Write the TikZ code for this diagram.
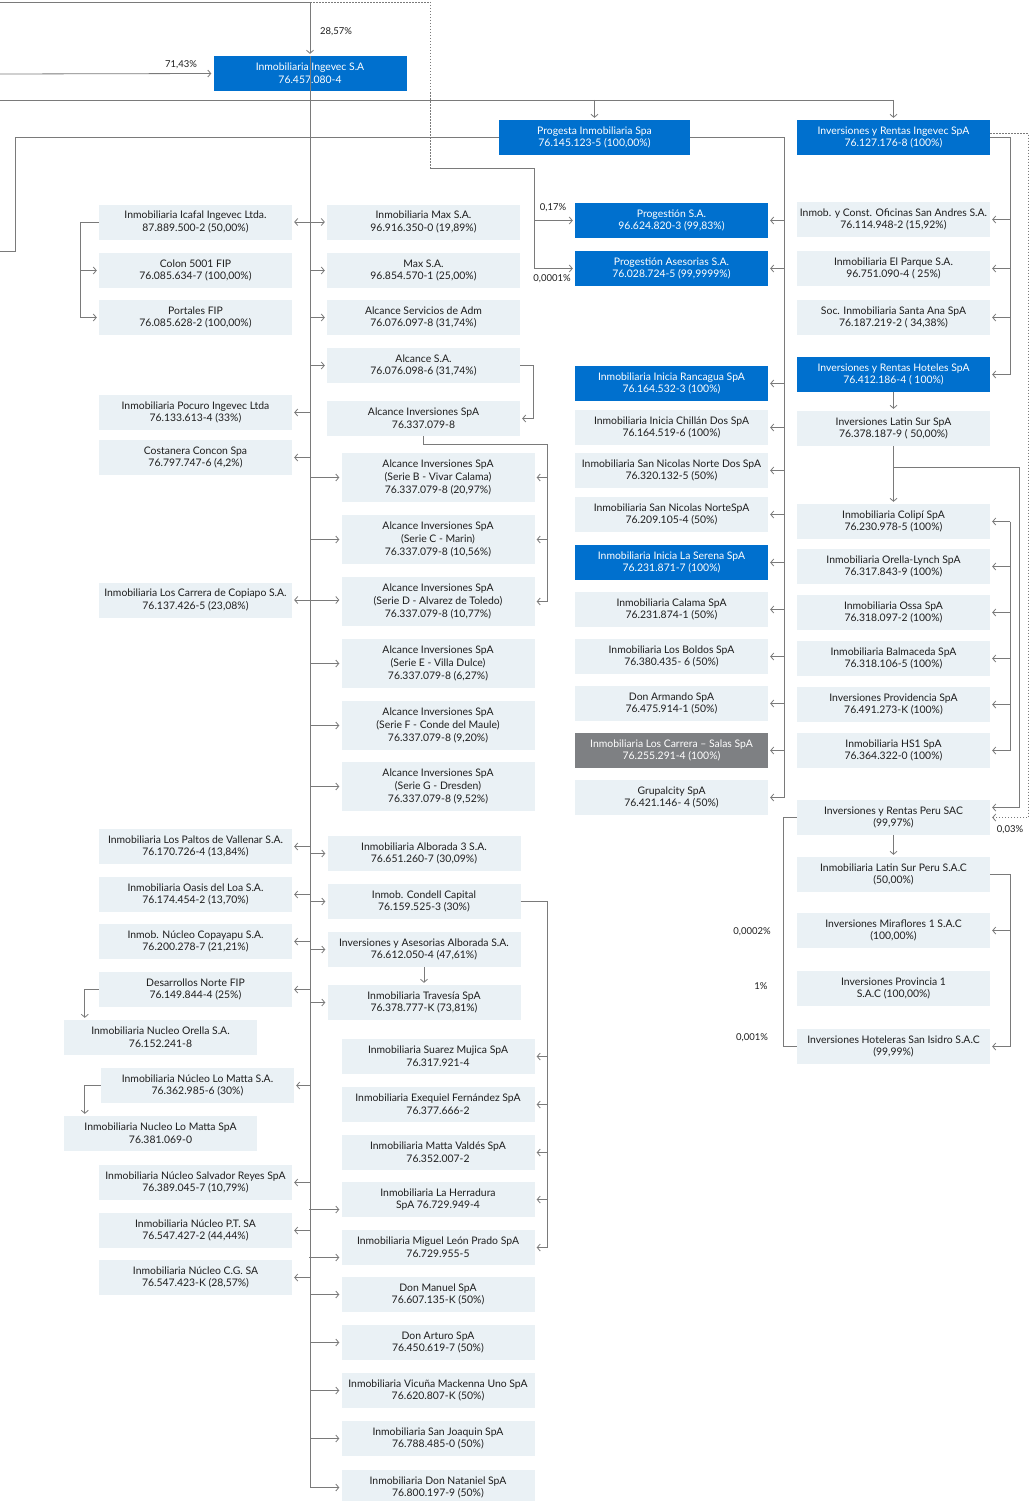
\documentclass[tikz,border=0pt]{standalone}
\usepackage{fontspec}
\setmainfont{Lato}
\usetikzlibrary{arrows.meta, calc}
\definecolor{corp}{HTML}{0070CE}
\definecolor{pale}{HTML}{EAF1F5}
\definecolor{ash}{HTML}{7E8083}
\definecolor{wire}{HTML}{7A7A7A}
\definecolor{txt}{HTML}{1E1E1E}

\tikzset{
  box/.style={rectangle, minimum width=193pt, minimum height=35pt, inner sep=0pt,
    align=center, text=txt, font=\fontsize{10.4}{12.8}\selectfont},
  pbox/.style={box, fill=pale},
  bbox/.style={box, fill=corp, text=white},
  gbox/.style={box, fill=ash, text=white},
  tall/.style={minimum height=49pt},
  link/.style={draw=wire, line width=0.8pt},
  arr/.style={link, -{Straight Barb[length=3pt,width=7pt]}, shorten >=2pt},
  darr/.style={link, {Straight Barb[length=3pt,width=7pt]}-{Straight Barb[length=3pt,width=7pt]},
    shorten >=2pt, shorten <=2pt},
  dots/.style={draw=wire, line width=0.8pt, dash pattern=on 1.5pt off 1.5pt},
  pct/.style={text=txt, inner sep=0pt, font=\fontsize{9.5}{11}\selectfont}
}

\begin{document}
\begin{tikzpicture}[x=1pt, y=-1pt]
    \useasboundingbox (0,0) rectangle (1029,1501);

    % Top companies
    \node[bbox] (ingevec) at (310,73.5) {Inmobiliaria Ingevec S.A\\76.457.080-4};
    \node[bbox, minimum width=191pt] (progesta) at (594.5,137.5) {Progesta Inmobiliaria Spa\\76.145.123-5 (100,00\%)};
    \node[bbox] (invrentas) at (893.5,137.5) {Inversiones y Rentas Ingevec SpA\\76.127.176-8 (100\%)};

    % Left column
    \node[pbox] (icafal) at (195.5,222) {Inmobiliaria Icafal Ingevec Ltda.\\87.889.500-2 (50,00\%)};
    \node[pbox] (colon) at (195.5,270.5) {Colon 5001 FIP\\76.085.634-7 (100,00\%)};
    \node[pbox] (portales) at (195.5,317.5) {Portales FIP\\76.085.628-2 (100,00\%)};
    \node[pbox] (pocuro) at (195.5,412.5) {Inmobiliaria Pocuro Ingevec Ltda\\76.133.613-4 (33\%)};
    \node[pbox] (costanera) at (195.5,457.5) {Costanera Concon Spa\\76.797.747-6 (4,2\%)};
    \node[pbox] (copiapo) at (195.5,600) {Inmobiliaria Los Carrera de Copiapo S.A.\\76.137.426-5 (23,08\%)};
    \node[pbox] (paltos) at (195.5,846.5) {Inmobiliaria Los Paltos de Vallenar S.A.\\76.170.726-4 (13,84\%)};
    \node[pbox] (oasis) at (195.5,894.5) {Inmobiliaria Oasis del Loa S.A.\\76.174.454-2 (13,70\%)};
    \node[pbox] (copayapu) at (195.5,941.5) {Inmob. Núcleo Copayapu S.A.\\76.200.278-7 (21,21\%)};
    \node[pbox] (desarrollos) at (195.5,989.5) {Desarrollos Norte FIP\\76.149.844-4 (25\%)};
    \node[pbox] (nucorella) at (160.5,1037.5) {Inmobiliaria Nucleo Orella S.A.\\76.152.241-8};
    \node[pbox] (lomatta) at (197.5,1085.5) {Inmobiliaria Núcleo Lo Matta S.A.\\76.362.985-6 (30\%)};
    \node[pbox] (lomattaspa) at (160.5,1133.5) {Inmobiliaria Nucleo Lo Matta SpA\\76.381.069-0};
    \node[pbox] (salvador) at (195.5,1182.5) {Inmobiliaria Núcleo Salvador Reyes SpA\\76.389.045-7 (10,79\%)};
    \node[pbox] (nucleopt) at (195.5,1230.5) {Inmobiliaria Núcleo P.T. SA\\76.547.427-2 (44,44\%)};
    \node[pbox] (nucleocg) at (195.5,1277.5) {Inmobiliaria Núcleo C.G. SA\\76.547.423-K (28,57\%)};

    % Column right of the spine
    \node[pbox] (maxinm) at (423.5,222) {Inmobiliaria Max S.A.\\96.916.350-0 (19,89\%)};
    \node[pbox] (maxsa) at (423.5,270.5) {Max S.A.\\96.854.570-1 (25,00\%)};
    \node[pbox] (alcserv) at (423.5,317.5) {Alcance Servicios de Adm\\76.076.097-8 (31,74\%)};
    \node[pbox] (alcancesa) at (423.5,365.5) {Alcance S.A.\\76.076.098-6 (31,74\%)};
    \node[pbox] (alcinv) at (423.5,418.5) {Alcance Inversiones SpA\\76.337.079-8};
    \node[pbox, tall] (serieb) at (438,477.5) {Alcance Inversiones SpA\\(Serie B -  Vivar Calama)\\76.337.079-8 (20,97\%)};
    \node[pbox, tall] (seriec) at (438,539.5) {Alcance Inversiones SpA\\(Serie C -  Marin)\\76.337.079-8 (10,56\%)};
    \node[pbox, tall] (seried) at (438,601.5) {Alcance Inversiones SpA\\(Serie D -  Alvarez de Toledo)\\76.337.079-8 (10,77\%)};
    \node[pbox, tall] (seriee) at (438,663.5) {Alcance Inversiones SpA\\(Serie E -  Villa Dulce)\\76.337.079-8 (6,27\%)};
    \node[pbox, tall] (serief) at (438,725.5) {Alcance Inversiones SpA\\(Serie F -  Conde del Maule)\\76.337.079-8 (9,20\%)};
    \node[pbox, tall] (serieg) at (438,786.5) {Alcance Inversiones SpA\\(Serie  G -  Dresden)\\76.337.079-8 (9,52\%)};
    \node[pbox] (alborada3) at (424,853.5) {Inmobiliaria Alborada 3 S.A.\\76.651.260-7 (30,09\%)};
    \node[pbox] (condell) at (424,901.5) {Inmob. Condell Capital\\76.159.525-3 (30\%)};
    \node[pbox] (alborada) at (424,949.5) {Inversiones y Asesorias Alborada S.A.\\76.612.050-4 (47,61\%)};
    \node[pbox] (travesia) at (424,1002.5) {Inmobiliaria Travesía SpA\\76.378.777-K (73,81\%)};
    \node[pbox] (suarez) at (438,1056.5) {Inmobiliaria Suarez Mujica SpA\\76.317.921-4};
    \node[pbox] (exequiel) at (438,1104.5) {Inmobiliaria Exequiel Fernández SpA\\76.377.666-2};
    \node[pbox] (mattavaldes) at (438,1152.5) {Inmobiliaria Matta Valdés SpA\\76.352.007-2};
    \node[pbox] (herradura) at (438,1199.5) {Inmobiliaria La Herradura\\SpA 76.729.949-4};
    \node[pbox] (leonprado) at (438,1247.5) {Inmobiliaria Miguel León Prado SpA\\76.729.955-5};
    \node[pbox] (donmanuel) at (438,1294.5) {Don Manuel SpA\\76.607.135-K (50\%)};
    \node[pbox] (donarturo) at (438,1342.5) {Don Arturo SpA\\76.450.619-7 (50\%)};
    \node[pbox] (vicuna) at (438,1390.5) {Inmobiliaria Vicuña Mackenna Uno SpA\\76.620.807-K (50\%)};
    \node[pbox] (sanjoaquin) at (438,1438.5) {Inmobiliaria San Joaquin SpA\\76.788.485-0 (50\%)};
    \node[pbox] (nataniel) at (438,1487.5) {Inmobiliaria Don Nataniel SpA\\76.800.197-9 (50\%)};

    % Progesta column
    \node[bbox] (progestion) at (671.5,220.5) {Progestión S.A.\\96.624.820-3 (99,83\%)};
    \node[bbox] (asesorias) at (671.5,268.5) {Progestión Asesorias S.A.\\76.028.724-5 (99,9999\%)};
    \node[bbox] (rancagua) at (671.5,383.5) {Inmobiliaria Inicia Rancagua SpA\\76.164.532-3 (100\%)};
    \node[pbox] (chillan) at (671.5,427.5) {Inmobiliaria Inicia Chillán Dos SpA\\76.164.519-6 (100\%)};
    \node[pbox] (snnortedos) at (671.5,470.5) {Inmobiliaria San Nicolas Norte Dos SpA\\76.320.132-5 (50\%)};
    \node[pbox] (snnorte) at (671.5,514.5) {Inmobiliaria San Nicolas NorteSpA\\76.209.105-4 (50\%)};
    \node[bbox] (laserena) at (671.5,562.5) {Inmobiliaria Inicia La Serena SpA\\76.231.871-7 (100\%)};
    \node[pbox] (calama) at (671.5,609.5) {Inmobiliaria Calama SpA\\76.231.874-1 (50\%)};
    \node[pbox] (boldos) at (671.5,656.5) {Inmobiliaria Los Boldos SpA\\76.380.435- 6 (50\%)};
    \node[pbox] (armando) at (671.5,703.5) {Don Armando SpA\\76.475.914-1 (50\%)};
    \node[gbox] (carrera) at (671.5,750.5) {Inmobiliaria Los Carrera – Salas SpA\\76.255.291-4 (100\%)};
    \node[pbox] (grupal) at (671.5,797.5) {Grupalcity SpA\\76.421.146- 4 (50\%)};

    % Inversiones y Rentas column
    \node[pbox] (sanandres) at (893.5,219.5) {Inmob. y Const. Oficinas San Andres S.A.\\76.114.948-2 (15,92\%)};
    \node[pbox] (parque) at (893.5,268.5) {Inmobiliaria El Parque S.A.\\96.751.090-4 ( 25\%)};
    \node[pbox] (santaana) at (893.5,317.5) {Soc. Inmobiliaria Santa Ana SpA\\76.187.219-2 ( 34,38\%)};
    \node[bbox] (hoteles) at (893.5,374.5) {Inversiones y Rentas Hoteles SpA\\76.412.186-4 ( 100\%)};
    \node[pbox] (latinsur) at (893.5,428.5) {Inversiones Latin Sur SpA\\76.378.187-9 ( 50,00\%)};
    \node[pbox] (colipi) at (893.5,521.5) {Inmobiliaria Colipí SpA\\76.230.978-5 (100\%)};
    \node[pbox] (orella) at (893.5,566.5) {Inmobiliaria Orella-Lynch SpA\\76.317.843-9 (100\%)};
    \node[pbox] (ossa) at (893.5,612.5) {Inmobiliaria Ossa SpA\\76.318.097-2 (100\%)};
    \node[pbox] (balmaceda) at (893.5,658.5) {Inmobiliaria Balmaceda SpA\\76.318.106-5 (100\%)};
    \node[pbox] (providencia) at (893.5,704.5) {Inversiones Providencia SpA\\76.491.273-K (100\%)};
    \node[pbox] (hsone) at (893.5,750.5) {Inmobiliaria HS1 SpA\\76.364.322-0 (100\%)};
    \node[pbox] (peru) at (893.5,817.5) {Inversiones y Rentas Peru SAC\\(99,97\%)};
    \node[pbox] (latinperu) at (893.5,874.5) {Inmobiliaria Latin Sur Peru S.A.C\\(50,00\%)};
    \node[pbox] (miraflores) at (893.5,930.5) {Inversiones Miraflores 1 S.A.C\\(100,00\%)};
    \node[pbox] (provincia) at (893.5,988.5) {Inversiones Provincia 1\\S.A.C (100,00\%)};
    \node[pbox] (isidro) at (893.5,1046.5) {Inversiones Hoteleras San Isidro S.A.C\\(99,99\%)};

    % Percent labels
    \node[pct] (p2857) at (336,32) {28,57\%};
    \node[pct] (p7143) at (181,65) {71,43\%};
    \node[pct] (p017) at (553,208) {0,17\%};
    \node[pct] (p00001) at (552,279) {0,0001\%};
    \node[pct] (p003) at (1010,830) {0,03\%};
    \node[pct] (p00002) at (752,932) {0,0002\%};
    \node[pct] (p1) at (761,986) {1\%};
    \node[pct] (p0001) at (752,1038) {0,001\%};

    % Feeds coming in from outside the page
    \coordinate (feedtop) at (0,2);
    \coordinate (feedmid) at (0,74);
    \coordinate (feedlow) at (0,100);
    \coordinate (feedout) at (0,251);
    \coordinate (outknee) at (15,251);
    \coordinate (dotknee) at (430,2);
    \coordinate (dotfoot) at (430,168);
    \coordinate (pgfork) at (534,168);
    \draw[arr] (feedtop) -| (ingevec.north);
    \draw[arr] (feedmid) -- (ingevec.west);
    \draw[dots] (feedtop -| ingevec.north) -- (dotknee) -- (dotfoot);
    \draw[link] (dotfoot) -- (pgfork);
    \draw[arr] (pgfork) |- (asesorias.west);
    \draw[arr] (pgfork |- progestion.west) -- (progestion.west);
    \draw[link] (feedlow) -- (feedlow -| invrentas.north);
    \draw[arr] (feedlow -| progesta.north) -- (progesta.north);
    \draw[arr] (feedlow -| invrentas.north) -- (invrentas.north);
    \draw[link] (progesta.west) -| (outknee) -- (feedout);

    % Spine under Inmobiliaria Ingevec
    \draw[arr] (ingevec.north) |- (nataniel.west);
    \foreach \n in {maxsa,alcserv,alcancesa,serieb,seriec,seriee,serief,serieg,alborada3,condell,alborada,travesia,donmanuel,donarturo,vicuna,sanjoaquin}
      \draw[arr] (ingevec.center |- \n.west) -- (\n.west);
    \draw[arr] ($(herradura.west)+(-32,10)$) -- ($(herradura.west)+(0,10)$);
    \draw[arr] ($(leonprado.west)+(-32,10)$) -- ($(leonprado.west)+(0,10)$);
    \foreach \n in {pocuro,costanera,paltos,oasis,copayapu,desarrollos,lomatta,salvador,nucleopt,nucleocg}
      \draw[arr] (ingevec.center |- \n.east) -- (\n.east);
    \draw[darr] (icafal.east) -- (maxinm.west);
    \draw[darr] (copiapo.east) -- (copiapo.east -| seried.west);

    % Left side links
    \draw[arr] (icafal.west) -- ++(-18,0) |- (portales.west);
    \draw[arr] ($(colon.west)+(-18,0)$) -- (colon.west);
    \draw[arr] (desarrollos.west) -| ($(nucorella.north west)+(21,0)$);
    \draw[arr] (lomatta.west) -| ($(lomattaspa.north west)+(21,0)$);

    % Alcance links
    \draw[arr] (alcancesa.east) -- ++(13,0) |- (alcinv.east);
    \coordinate (afan) at ($(seried.east)+(13,0)$);
    \draw[link] (alcinv.south) -- ++(0,8) -| (afan);
    \foreach \n in {serieb,seriec,seried}
      \draw[arr] (afan |- \n.east) -- (\n.east);

    % Alborada and Condell links
    \draw[arr] (alborada.south) -- (travesia.north);
    \draw[link] (condell.east) -| ($(leonprado.east)+(13,0)$);
    \foreach \n in {suarez,exequiel,mattavaldes,herradura,leonprado}
      \draw[arr] ($(\n.east)+(13,0)$) -- (\n.east);

    % Progesta links
    \draw[link] (progesta.east) -| ($(grupal.east)+(16,0)$);
    \foreach \n in {progestion,asesorias,rancagua,chillan,snnortedos,snnorte,laserena,calama,boldos,armando,carrera,grupal}
      \draw[arr] ($(\n.east)+(16,0)$) -- (\n.east);

    % Inversiones y Rentas links
    \draw[link] (invrentas.east) -| ($(hoteles.east)+(20,0)$);
    \foreach \n in {sanandres,parque,santaana,hoteles}
      \draw[arr] ($(\n.east)+(20,0)$) -- (\n.east);
    \draw[dots, -{Straight Barb[length=3pt,width=7pt]}, shorten >=2pt] ([yshift=4pt]invrentas.east) -- ++(38,0) |- (peru.east);
    \draw[arr] (hoteles.south) -- (latinsur.north);
    \draw[arr] (latinsur.south) -- (colipi.north);
    \draw[arr] ($(latinsur.south)+(0,21)$) -| ($(peru.east)+(29,-10)$) -- ($(peru.east)+(0,-10)$);
    \coordinate (cfan) at ($(colipi.east)+(20,0)$);
    \draw[link] (cfan) -- (cfan |- hsone.east);
    \foreach \n in {colipi,orella,ossa,balmaceda,providencia,hsone}
      \draw[arr] (cfan |- \n.east) -- (\n.east);

    % Peru links
    \draw[arr] (peru.south) -- (latinperu.north);
    \draw[link] (latinperu.east) -| ($(isidro.east)+(20,0)$);
    \foreach \n in {miraflores,isidro}
      \draw[arr] ($(\n.east)+(20,0)$) -- (\n.east);
    \draw[link] (peru.west) -- ++(-13,0) |- (isidro.west);
\end{tikzpicture}
\end{document}
